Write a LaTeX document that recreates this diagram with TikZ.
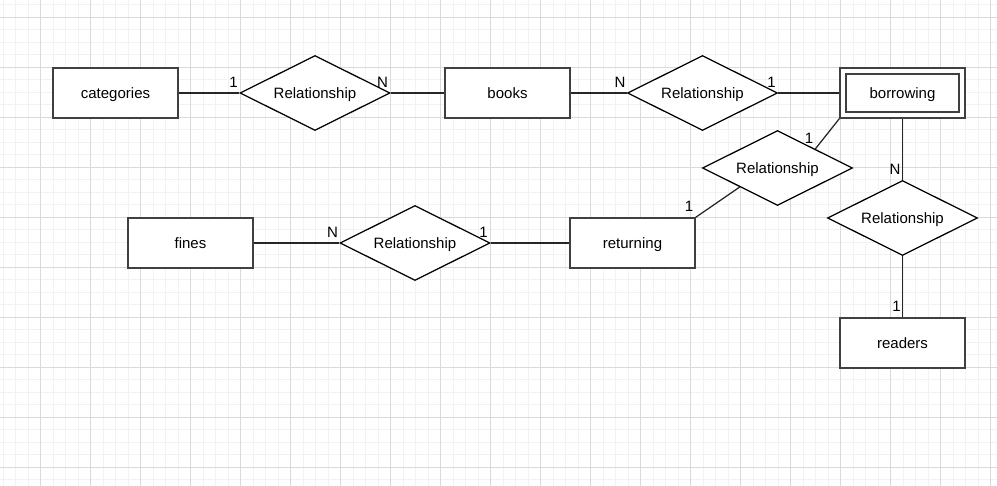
\documentclass[tikz,border=0pt]{standalone}
\usepackage{fontspec}
\setmainfont{Liberation Sans}
\usetikzlibrary{shapes.geometric,positioning}
\definecolor{gridminor}{RGB}{242,242,242}
\definecolor{gridmajor}{RGB}{218,218,218}

\begin{document}
\begin{tikzpicture}[
  x=1pt, y=-1pt,
  font=\fontsize{15}{18}\selectfont,
  line width=1.25pt,
  entity/.style={rectangle, minimum width=125pt, minimum height=50pt, draw=black!75, fill=white, inner sep=0pt, text height=10.9pt, text depth=0pt},
  relation/.style={diamond, aspect=2, minimum width=150pt, minimum height=75pt, draw=black, fill=white, inner sep=0pt, text height=10.9pt, text depth=0pt},
  card/.style={inner sep=0pt},
  conn/.style={draw=black!85}
]
\useasboundingbox (0,0) rectangle (997,486);

% background grid
\foreach \x in {3.3,15.8,...,997} {
  \draw[gridminor, line width=1pt] (\x,0) -- (\x,486);
}
\foreach \y in {4.8,17.3,...,486} {
  \draw[gridminor, line width=1pt] (0,\y) -- (997,\y);
}
\foreach \x in {40.3,90.3,...,997} {
  \draw[gridmajor, line width=1pt] (\x,0) -- (\x,486);
}
\foreach \y in {17.3,67.3,...,486} {
  \draw[gridmajor, line width=1pt] (0,\y) -- (997,\y);
}

% entities
\node[entity] (categories) at (115.5,93) {categories};
\node[entity] (books) at (507.5,93) {books};
\node[entity] (borrowing) at (902.5,93) {borrowing};
\node[entity, minimum width=113pt, minimum height=38pt, fill=none] (borrowingin) at (borrowing.center) {};
\node[entity] (fines) at (190.5,243) {fines};
\node[entity] (returning) at (632.5,243) {returning};
\node[entity] (readers) at (902.5,343) {readers};

% relationships
\node[relation] (r1) at (315,93) {Relationship};
\node[relation] (r2) at (702.5,93) {Relationship};
\node[relation] (r3) at (777.5,168) {Relationship};
\node[relation] (r4) at (902.5,218) {Relationship};
\node[relation] (r5) at (415,243) {Relationship};

% connectors
\draw[conn] (categories) -- (r1);
\draw[conn] (r1) -- (books);
\draw[conn] (books) -- (r2);
\draw[conn] (r2) -- (borrowing);
\draw[conn] (borrowing.south west) -- (r3.north east);
\draw[conn] (r3.south west) -- (returning.north east);
\draw[conn] (borrowing) -- (r4);
\draw[conn] (r4) -- (readers);
\draw[conn] (fines) -- (r5);
\draw[conn] (r5) -- (returning);

% cardinalities
\node[card] (c1) at (233.5,82) {1};
\node[card] (c2) at (382.5,82) {N};
\node[card] (c3) at (620,82) {N};
\node[card] (c4) at (771.5,82) {1};
\node[card] (c5) at (809,138.5) {1};
\node[card] (c6) at (689,206) {1};
\node[card] (c7) at (895,169) {N};
\node[card] (c8) at (896.5,306.5) {1};
\node[card] (c9) at (332.5,232.5) {N};
\node[card] (c10) at (483.5,232.5) {1};

\end{tikzpicture}
\end{document}
